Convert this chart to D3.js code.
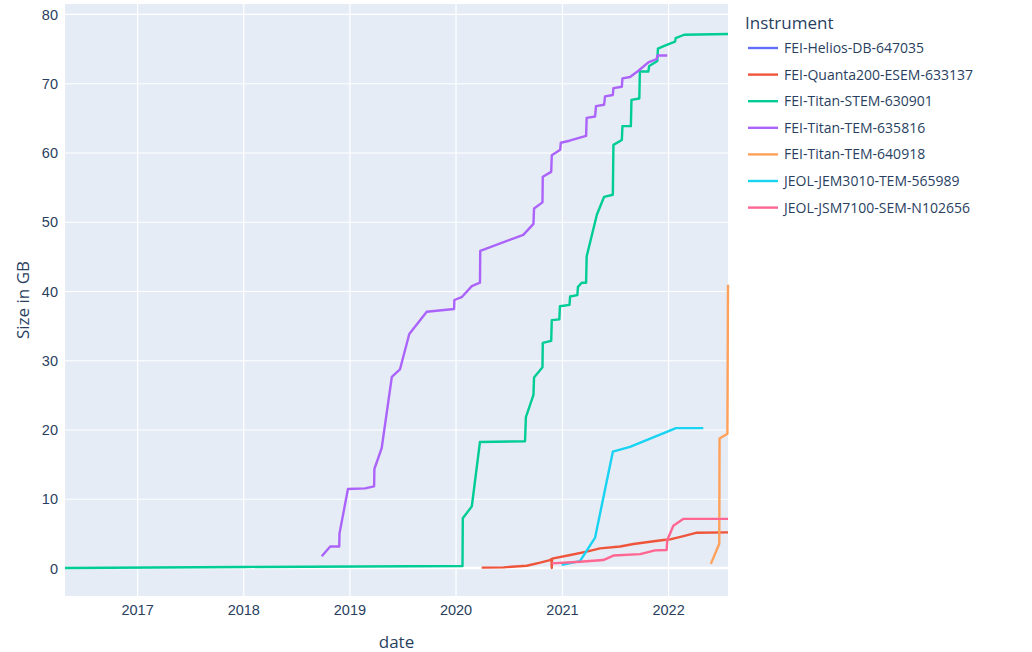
<!DOCTYPE html>
<html>
<head>
<meta charset="utf-8">
<script src="https://cdn.jsdelivr.net/npm/d3@7"></script>
<style>
  body { margin: 0; background: #fff; }
  svg { font-family: "Open Sans", "Noto Sans", sans-serif; }
  .tick text { fill: #2a3f5f; font-size: 14.5px; }
  .label { fill: #2a3f5f; font-size: 17px; }
  .legend-item { fill: #2a3f5f; font-size: 14px; }
</style>
</head>
<body>
<svg id="chart" width="1032" height="652"></svg>
<script>
// instruments, in legend order
const instruments = [
  "FEI-Helios-DB-647035",
  "FEI-Quanta200-ESEM-633137",
  "FEI-Titan-STEM-630901",
  "FEI-Titan-TEM-635816",
  "FEI-Titan-TEM-640918",
  "JEOL-JEM3010-TEM-565989",
  "JEOL-JSM7100-SEM-N102656"
]

// cumulative size in GB, [date, size]
const heliosDB647035 = [["2022-03-01", 0.01]]

const quanta200_633137 = [
  ["2020-03-31",0.05],["2020-06-14",0.1],["2020-09-02",0.33],["2020-10-18",0.77],
  ["2020-11-21",1.15],["2020-11-26",1.3],["2020-11-27",0.0],["2020-11-28",1.35],
  ["2021-01-30",1.88],["2021-03-27",2.36],["2021-05-12",2.84],["2021-07-20",3.1],
  ["2021-09-04",3.47],["2021-10-31",3.8],["2021-12-16",4.04],["2022-01-08",4.14],
  ["2022-02-23",4.6],["2022-04-10",5.1],["2022-07-26",5.15]
]

const titanSTEM630901 = [
  ["2016-04-28",0.0],["2018-01-01",0.15],["2020-01-25",0.3],["2020-01-26",7.2],
  ["2020-02-26",8.9],["2020-03-25",18.2],["2020-08-27",18.3],["2020-08-30",21.8],
  ["2020-09-25",25.0],["2020-09-27",27.5],["2020-10-26",29.0],["2020-10-27",32.5],
  ["2020-11-25",32.8],["2020-11-27",35.8],["2020-12-23",35.9],["2020-12-25",37.8],
  ["2021-01-27",38.0],["2021-01-29",39.2],["2021-02-23",39.4],["2021-02-25",40.6],
  ["2021-03-10",41.2],["2021-03-25",41.2],["2021-03-27",45.0],["2021-05-01",51.0],
  ["2021-05-26",53.6],["2021-06-25",53.9],["2021-06-27",61.1],["2021-07-26",61.8],
  ["2021-07-28",63.8],["2021-08-26",63.8],["2021-08-28",67.6],["2021-09-24",67.8],
  ["2021-09-26",71.7],["2021-10-25",71.7],["2021-10-28",72.5],["2021-11-25",73.2],
  ["2021-11-27",75.0],["2021-12-25",75.5],["2022-01-25",76.0],["2022-01-27",76.5],
  ["2022-02-25",77.0],["2022-07-26",77.1]
]

const titanTEM635816 = [
  ["2018-09-28",1.7],["2018-10-27",3.1],["2018-11-27",3.1],["2018-11-28",5.0],
  ["2018-12-27",11.4],["2019-02-24",11.5],["2019-03-27",11.8],["2019-03-28",14.3],
  ["2019-04-22",17.3],["2019-05-27",27.6],["2019-06-24",28.7],["2019-07-26",33.8],
  ["2019-09-24",37.0],["2019-12-27",37.4],["2019-12-28",38.7],["2020-01-22",39.1],
  ["2020-02-26",40.7],["2020-03-25",41.2],["2020-03-26",45.8],["2020-08-21",48.1],
  ["2020-09-25",49.7],["2020-09-27",51.9],["2020-10-26",52.8],["2020-10-27",56.5],
  ["2020-11-25",57.2],["2020-11-27",59.6],["2020-12-26",60.4],["2020-12-28",61.4],
  ["2021-01-27",61.7],["2021-03-25",62.4],["2021-03-27",65.0],["2021-04-25",65.2],
  ["2021-04-28",66.7],["2021-05-26",66.9],["2021-05-29",68.1],["2021-06-25",68.3],
  ["2021-06-27",69.3],["2021-07-26",69.5],["2021-07-28",70.7],["2021-08-23",70.9],
  ["2021-09-21",71.8],["2021-10-25",73.0],["2021-11-23",73.5],["2021-11-25",74.0],
  ["2021-12-29",74.0]
]

const titanTEM640918 = [
  ["2022-05-28",0.6],["2022-06-26",3.5],["2022-06-27",18.7],["2022-07-24",19.4],
  ["2022-07-26",40.9]
]

const jem3010_565989 = [
  ["2020-12-31",0.45],["2021-03-04",1.0],["2021-04-25",4.4],["2021-06-25",16.8],
  ["2021-08-23",17.5],["2022-01-28",20.2],["2022-05-02",20.2]
]

const jsm7100_N102656 = [
  ["2020-11-27",0.67],["2021-03-04",0.9],["2021-05-23",1.15],["2021-06-27",1.8],
  ["2021-09-27",2.0],["2021-11-17",2.55],["2021-12-27",2.6],["2021-12-29",4.0],
  ["2022-01-19",6.1],["2022-02-23",7.1],["2022-07-26",7.1]
]

const seriesData = [heliosDB647035, quanta200_633137, titanSTEM630901, titanTEM635816,
                    titanTEM640918, jem3010_565989, jsm7100_N102656]

const yTicks = [0, 10, 20, 30, 40, 50, 60, 70, 80]
const yRange = [-4.04, 81.44]
const xTickYears = ["2017", "2018", "2019", "2020", "2021", "2022"]

const colors = ["#636efa", "#EF553B", "#00cc96", "#ab63fa", "#FFA15A", "#19d3f3", "#FF6692"]

const margin = {left: 65, right: 728, top: 4, bottom: 596}
const parse = d3.timeParse("%Y-%m-%d")

let series = seriesData.map(s => s.map(d => ({date: parse(d[0]), value: d[1]})))
let allDates = series.flat().map(d => d.date)

let xScale = d3.scaleTime().domain(d3.extent(allDates)).range([margin.left, margin.right])
let yScale = d3.scaleLinear().domain(yRange).range([margin.bottom, margin.top])

let svg = d3.select("#chart")

// plot background
svg.append("rect")
    .attr("x", margin.left).attr("y", margin.top)
    .attr("width", margin.right - margin.left)
    .attr("height", margin.bottom - margin.top)
    .attr("fill", "#e5ecf6")

// x axis with grid
let xTickDates = xTickYears.map(y => parse(y + "-01-01"))
let x_axis = d3.axisBottom(xScale)
    .tickValues(xTickDates)
    .tickFormat(d3.timeFormat("%Y"))
    .tickSize(-(margin.bottom - margin.top))
    .tickPadding(9)
let gx = svg.append("g")
    .attr("transform", `translate(0,${margin.bottom})`)
    .call(x_axis)
gx.select(".domain").remove()
gx.selectAll(".tick line").attr("stroke", "#fff").attr("stroke-width", 1.2)

// y axis with grid
let y_axis = d3.axisLeft(yScale)
    .tickValues(yTicks)
    .tickSize(-(margin.right - margin.left))
    .tickPadding(7)
let gy = svg.append("g")
    .attr("transform", `translate(${margin.left},0)`)
    .call(y_axis)
gy.select(".domain").remove()
gy.selectAll(".tick line").attr("stroke", "#fff").attr("stroke-width", 1.2)
gy.selectAll(".tick text").attr("dy", "0.35em")

// zero line
svg.append("line")
    .attr("x1", margin.left).attr("x2", margin.right)
    .attr("y1", yScale(0)).attr("y2", yScale(0))
    .attr("stroke", "#fff").attr("stroke-width", 2.4)

// lines
let line = d3.line().x(d => xScale(d.date)).y(d => yScale(d.value))
let plotArea = svg.append("g")
series.forEach((s, i) => {
    plotArea.append("path")
        .datum(s)
        .attr("d", line)
        .attr("fill", "none")
        .attr("stroke", colors[i])
        .attr("stroke-width", 2.4)
        .attr("stroke-linejoin", "round")
})

// axis titles
svg.append("text")
    .attr("class", "label")
    .attr("x", (margin.left + margin.right) / 2)
    .attr("y", 648)
    .attr("text-anchor", "middle")
    .text("date")

svg.append("g")
    .attr("transform", `translate(${29},${(margin.top + margin.bottom) / 2}) rotate(270)`)
    .append("text")
    .attr("class", "label")
    .attr("text-anchor", "middle")
    .text("Size in GB")

// legend
let legend = svg.append("g").attr("transform", "translate(745,0)")
legend.append("text")
    .attr("class", "label")
    .attr("x", 0).attr("y", 29)
    .text("Instrument")

instruments.forEach((name, i) => {
    let y = 48 + i * 26.6
    legend.append("line")
        .attr("x1", 3).attr("x2", 33)
        .attr("y1", y).attr("y2", y)
        .attr("stroke", colors[i])
        .attr("stroke-width", 2.4)
    legend.append("text")
        .attr("class", "legend-item")
        .attr("x", 39).attr("y", y)
        .attr("dy", "0.35em")
        .text(name)
})
</script>
</body>
</html>
